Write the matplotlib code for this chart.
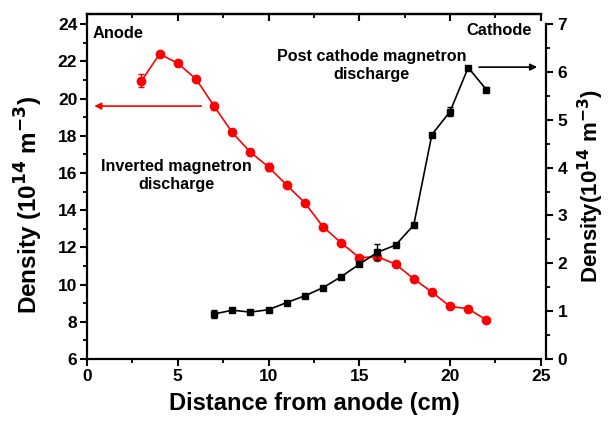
import matplotlib.pyplot as plt
from matplotlib.ticker import MultipleLocator

plt.rcParams['font.family'] = ['Liberation Sans', 'DejaVu Sans']
plt.rcParams['font.weight'] = 'bold'
plt.rcParams['mathtext.default'] = 'bf'

# Inverted magnetron discharge (left axis)
dist_red = [3, 4, 5, 6, 7, 8, 9, 10, 11, 12, 13, 14, 15, 16, 17, 18, 19, 20, 21, 22]
dens_red = [20.95, 22.4, 21.9, 21.06, 19.6, 18.18, 17.12, 16.33, 15.35, 14.4,
            13.11, 12.25, 11.45, 11.5, 11.1, 10.31, 9.6, 8.83, 8.7, 8.1]
err_red = [0.35, 0.0, 0.12, 0.0, 0.22, 0.0, 0.0, 0.2, 0.0, 0.0,
           0.0, 0.0, 0.0, 0.2, 0.0, 0.0, 0.0, 0.0, 0.0, 0.0]

# Post cathode magnetron discharge (right axis)
dist_blk = [7, 8, 9, 10, 11, 12, 13, 14, 15, 16, 17, 18, 19, 20, 21, 22]
dens_blk = [0.94, 1.02, 0.98, 1.03, 1.18, 1.32, 1.49, 1.72, 1.98, 2.23,
            2.38, 2.80, 4.69, 5.17, 6.09, 5.63]
err_blk = [0.09, 0.0, 0.0, 0.0, 0.0, 0.0, 0.0, 0.0, 0.0, 0.17,
           0.0, 0.0, 0.0, 0.1, 0.0, 0.05]

fig = plt.figure(figsize=(6.09, 4.23), dpi=100)
ax = fig.add_axes([0.1429, 0.1513, 0.888 - 0.1429, 0.9669 - 0.1513])
ax2 = ax.twinx()

ax.errorbar(dist_red, dens_red, yerr=err_red, color='red', marker='o', ms=6,
            lw=1.2, capsize=2.5, elinewidth=1, zorder=3)
ax2.errorbar(dist_blk, dens_blk, yerr=err_blk, color='black', marker='s', ms=5,
             lw=1.2, capsize=2.5, elinewidth=1, zorder=3)

ax.set_xlim(0, 25)
ax.set_ylim(6, 24.55)
ax2.set_ylim(0, 7.21)

ax.xaxis.set_major_locator(MultipleLocator(5))
ax.xaxis.set_minor_locator(MultipleLocator(2.5))
ax.yaxis.set_minor_locator(MultipleLocator(1))
ax.set_yticks(range(6, 25, 2))
ax2.yaxis.set_minor_locator(MultipleLocator(0.5))
ax2.set_yticks(range(0, 8))

for a in (ax, ax2):
    for s in a.spines.values():
        s.set_linewidth(1.6)
ax.spines['right'].set_visible(False)
ax2.spines['left'].set_visible(False)
ax2.spines['top'].set_visible(False)
ax2.spines['bottom'].set_visible(False)
ax2.spines['right'].set_position(('outward', 4))
ax2.spines['right'].set_bounds(0, 7)

ax.tick_params(axis='both', which='major', direction='out', length=5, width=1.5,
               labelsize=12.5, pad=2)
ax.tick_params(axis='both', which='minor', direction='out', length=3, width=1.3)
ax.tick_params(axis='y', right=False, which='both')
ax2.tick_params(axis='y', which='major', direction='out', length=5, width=1.5,
                labelsize=12.5, pad=3)
ax2.tick_params(axis='y', which='minor', direction='out', length=3, width=1.3)

# inward ticks along the top frame
top = ax.secondary_xaxis('top')
top.xaxis.set_major_locator(MultipleLocator(5))
top.xaxis.set_minor_locator(MultipleLocator(2.5))
top.tick_params(which='major', direction='in', length=5, width=1.5, labeltop=False)
top.tick_params(which='minor', direction='in', length=3, width=1.3)
top.spines['top'].set_linewidth(1.6)

ax.set_xlabel('Distance from anode (cm)', fontsize=17, fontweight='bold', labelpad=6)
ax.set_ylabel('Density (10$^{14}$ m$^{-3}$)', fontsize=17.5, fontweight='bold')
ax.yaxis.set_label_coords(-0.093, 0.446)
ax2.set_ylabel('Density(10$^{14}$ m$^{-3}$)', fontsize=16, fontweight='bold', labelpad=6)

ax.text(0.28, 23.5, 'Anode', fontsize=11.8, fontweight='bold', va='center')
ax.text(24.5, 23.68, 'Cathode', fontsize=11.8, fontweight='bold', va='center', ha='right')
ax.text(15.67, 21.8, 'Post cathode magnetron\ndischarge', fontsize=11.6,
        fontweight='bold', ha='center', va='center', linespacing=1.25)
ax.text(4.9, 15.86, 'Inverted magnetron\ndischarge', fontsize=11.6,
        fontweight='bold', ha='center', va='center', linespacing=1.25)

ax.annotate('', xy=(0.4, 19.6), xytext=(6.3, 19.6),
            arrowprops=dict(arrowstyle='-|>', color='red', lw=1.2,
                            mutation_scale=10, shrinkA=0, shrinkB=0))
ax2.annotate('', xy=(24.8, 6.1), xytext=(21.6, 6.1),
             arrowprops=dict(arrowstyle='-|>', color='black', lw=1.2,
                             mutation_scale=10, shrinkA=0, shrinkB=0))

fig.savefig('out.png', dpi=100)
